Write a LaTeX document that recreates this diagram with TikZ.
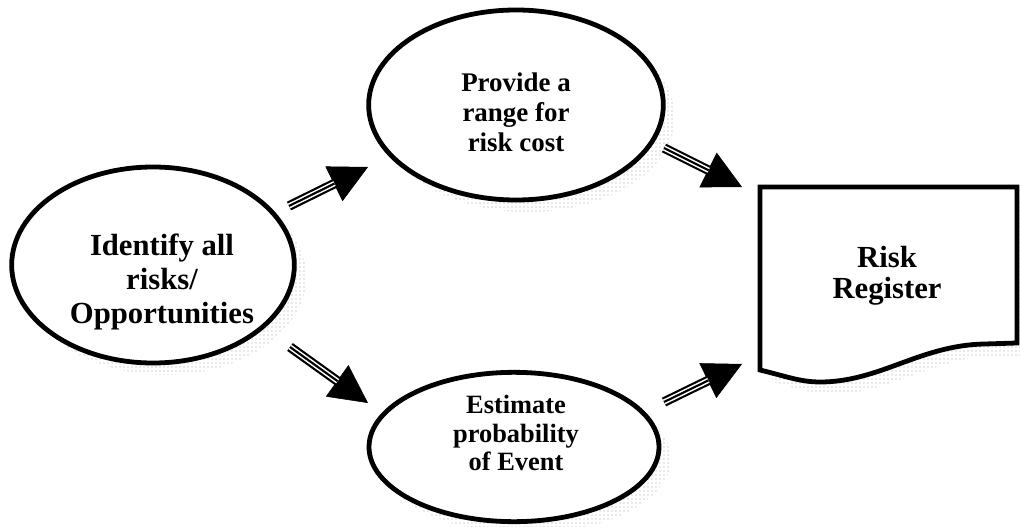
\documentclass[tikz,border=0pt]{standalone}
\usepackage{fontspec}
\setmainfont{Liberation Serif}
\usetikzlibrary{shapes.geometric,arrows.meta,patterns}

% one unit = one pixel of a 1020 x 527 canvas, y pointing down
\tikzset{
  x=0.75pt, y=-0.75pt,
  oval/.style={ellipse, draw, line width=3.6pt, fill=white, inner sep=0pt},
  ovalshadow/.style={ellipse, inner sep=0pt, pattern=dots, pattern color=gray!75},
  lbl/.style={align=center, font=\bfseries, inner sep=0pt},
}

% three-stripe arrow with a solid triangular head
\newcommand\stripedarrow[2]{%
  \draw[line width=0.4pt, -{Triangle[length=28.5pt,width=29pt]}] (#1) -- (#2);
  \draw[line width=7.2pt, shorten >=28pt] (#1) -- (#2);
  \draw[white, line width=3.9pt, shorten >=28pt] (#1) -- (#2);
  \draw[line width=1.6pt, shorten >=28pt] (#1) -- (#2);
}

\begin{document}
\begin{tikzpicture}
\useasboundingbox (0,0) rectangle (1020,527);

% drop shadows
\node[ovalshadow, minimum width=212pt, minimum height=147pt] at (165,277) {};
\node[ovalshadow, minimum width=221pt, minimum height=142.5pt] at (528,117) {};
\node[ovalshadow, minimum width=217.5pt, minimum height=112pt] at (526,459) {};
\fill[pattern=dots, pattern color=gray!75]
  (772,199) -- (1032,199) -- (1032,355) -- (997,356)
  .. controls (932,357) and (892,394) .. (832,394)
  .. controls (812,394) and (797,388) .. (772,382) -- cycle;

% ellipses
\node[oval, minimum width=212pt, minimum height=147pt] (ident) at (153,265) {};
\node[oval, minimum width=221pt, minimum height=142.5pt] (range) at (516,105) {};
\node[oval, minimum width=217.5pt, minimum height=112pt] (prob) at (514,447) {};

% risk register document
\draw[line width=3.6pt, fill=white, line join=miter]
  (760,187) -- (1017,187) -- (1017,343) -- (985,344)
  .. controls (920,345) and (880,382) .. (820,382)
  .. controls (800,382) and (785,376) .. (760,370) -- cycle;

% labels
\node[lbl, font=\bfseries\fontsize{23pt}{25.5pt}\selectfont] (identT) at (162,282)
  {Identify all\\risks/\\Opportunities};
\node[lbl, font=\bfseries\fontsize{20.2pt}{22.5pt}\selectfont] (rangeT) at (516,112)
  {Provide a\\range for\\risk cost};
\node[lbl, font=\bfseries\fontsize{19.8pt}{21.4pt}\selectfont] (probT) at (516,433)
  {Estimate\\probability\\of Event};
\node[lbl, font=\bfseries\fontsize{23pt}{23pt}\selectfont] (reg) at (887,276)
  {Risk\\Register};

% arrow end points
\coordinate (a1s) at (289,206); \coordinate (a1e) at (368,167);
\coordinate (a2s) at (290,347); \coordinate (a2e) at (368,403);
\coordinate (a3s) at (664,148); \coordinate (a3e) at (742,187);
\coordinate (a4s) at (664,402); \coordinate (a4e) at (742,364);

\stripedarrow{a1s}{a1e}
\stripedarrow{a2s}{a2e}
\stripedarrow{a3s}{a3e}
\stripedarrow{a4s}{a4e}
\end{tikzpicture}
\end{document}
